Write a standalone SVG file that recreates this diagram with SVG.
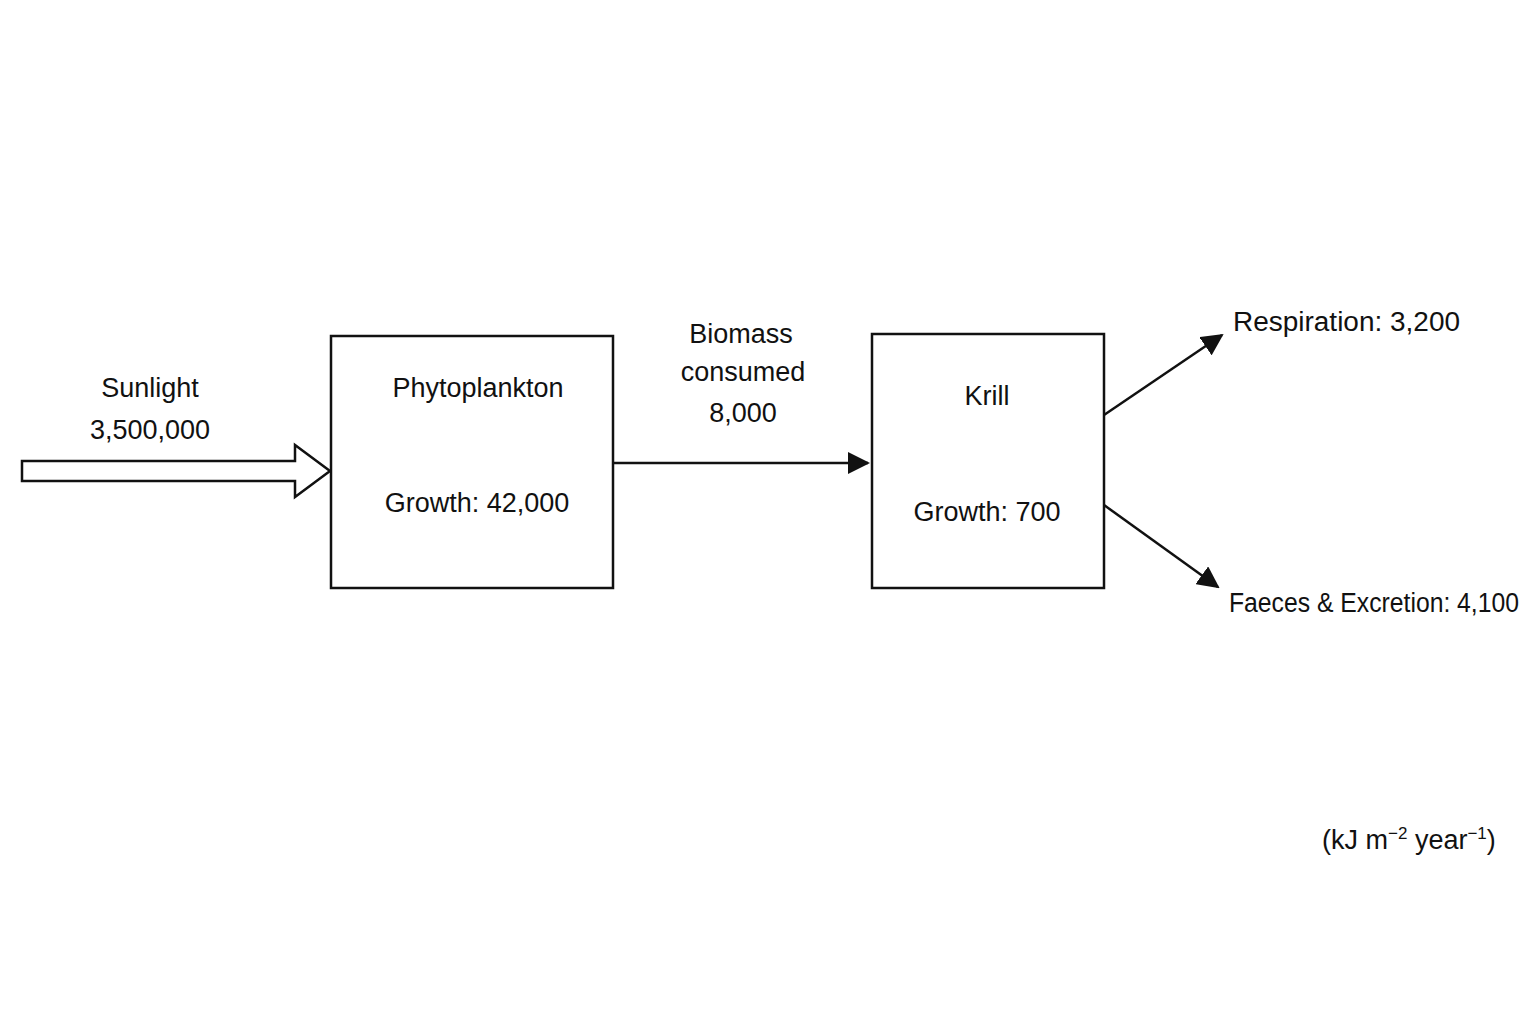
<svg xmlns="http://www.w3.org/2000/svg" width="1536" height="1024" viewBox="0 0 1536 1024">
<style>
text{font-family:"Liberation Sans",Arial,sans-serif;font-size:27px;fill:#111}
.c{text-anchor:middle}
.box{fill:#fff;stroke:#111;stroke-width:2.5}
.ln{stroke:#111;stroke-width:2.5;fill:none}
</style>
<defs>
<marker id="ahb" markerWidth="22" markerHeight="22" refX="20" refY="11" orient="auto" markerUnits="userSpaceOnUse" viewBox="0 0 22 22">
<path d="M0,0 L22,11 L0,22 z" fill="#111"/>
</marker>
</defs>
<rect width="1536" height="1024" fill="#fff"/>
<g id="sunlight">
<text class="c" x="150" y="397">Sunlight</text>
<text class="c" x="150" y="439">3,500,000</text>
</g>
<g id="phytoplankton">
<rect class="box" x="331" y="336" width="282" height="252"/>
<text class="c" x="478" y="397">Phytoplankton</text>
<text class="c" x="477" y="512">Growth: 42,000</text>
</g>
<g id="krill">
<rect class="box" x="872" y="334" width="232" height="254"/>
<text class="c" x="987" y="405">Krill</text>
<text class="c" x="987" y="521">Growth: 700</text>
</g>
<g id="labels">
<text class="c" x="741" y="343">Biomass</text>
<text class="c" x="743" y="381">consumed</text>
<text class="c" x="743" y="422">8,000</text>
<text x="1233" y="331" textLength="227" lengthAdjust="spacingAndGlyphs">Respiration: 3,200</text>
<text x="1229" y="612" font-size="25" textLength="290" lengthAdjust="spacingAndGlyphs">Faeces &amp; Excretion: 4,100</text>
<text x="1322" y="849">(kJ m<tspan font-size="17" dy="-10">−2</tspan><tspan dy="10"> year</tspan><tspan font-size="17" dy="-10">−1</tspan><tspan dy="10">)</tspan></text>
</g>
<g id="connectors">
<path class="ln" d="M22,461 L295,461 L295,445 L330,471 L295,497 L295,481 L22,481 Z" fill="#fff"/>
<line class="ln" x1="613" y1="463" x2="868" y2="463" marker-end="url(#ahb)"/>
<line class="ln" x1="1104" y1="415" x2="1222" y2="335" marker-end="url(#ahb)"/>
<line class="ln" x1="1104" y1="505" x2="1218" y2="587" marker-end="url(#ahb)"/>
</g>
</svg>
